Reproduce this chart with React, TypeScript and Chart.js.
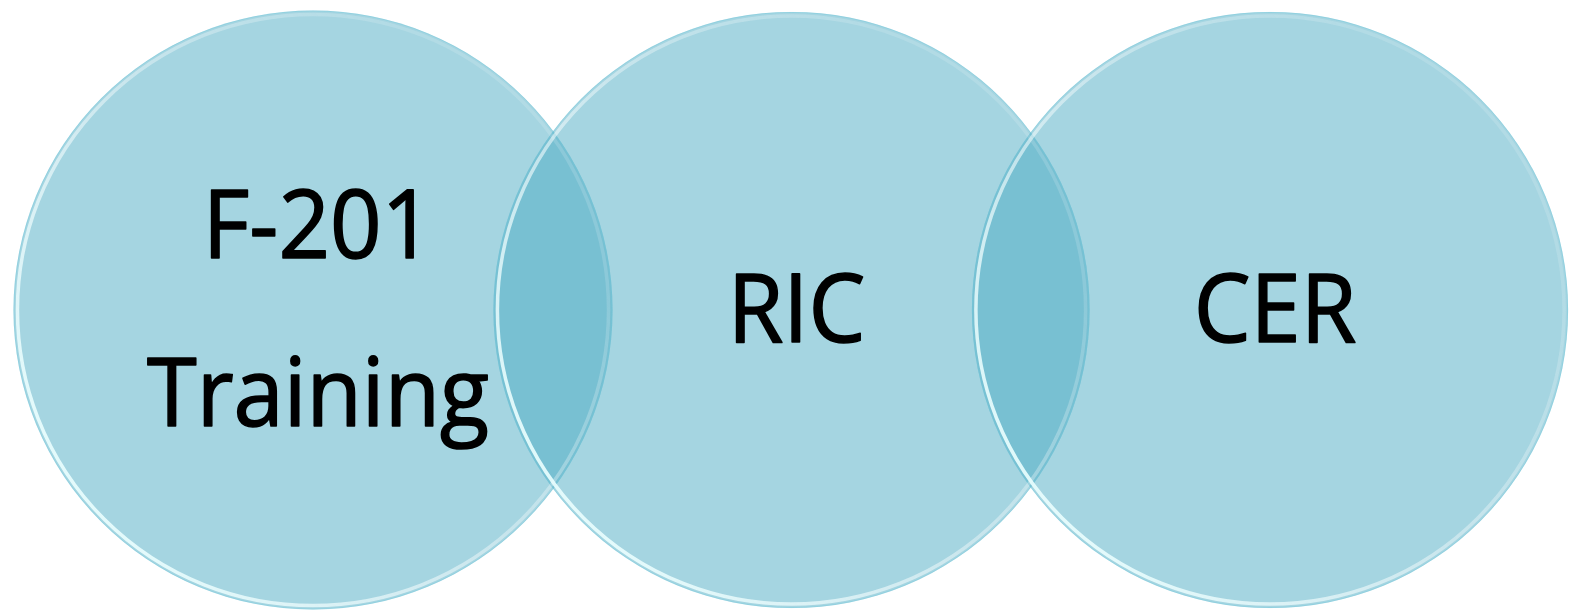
import React, { useEffect, useRef } from "react";
import { Chart, registerables } from "chart.js";

Chart.register(...registerables);

// Sets (circles) of the Venn diagram
const SET_NAMES = ["F-201 Training", "RIC", "CER"];
const SET_LABEL_LINES = [["F-201", "Training"], ["RIC"], ["CER"]];
// Circle centres in data units (x) and common y
const CENTER_X = [1, 2, 3];
const CENTER_Y = [0, 0, 0];
// Circle radius in data units (same units as x)
const RADIUS = [0.626, 0.623, 0.623];

const FILL = "rgba(75, 171, 195, 0.5)";

const rimPlugin = {
  id: "vennRim",
  afterDatasetsDraw(chart: any) {
    const ctx = chart.ctx;
    chart.data.datasets.forEach((_ds: any, di: number) => {
      const el = chart.getDatasetMeta(di).data[0];
      if (!el) return;
      const r = el.options.radius;
      ctx.save();
      // outer thin cyan outline
      ctx.beginPath();
      ctx.arc(el.x, el.y, r - 0.5, 0, Math.PI * 2);
      ctx.strokeStyle = "rgba(110, 200, 220, 0.35)";
      ctx.lineWidth = 1;
      ctx.stroke();
      // inner white highlight band, strongest at top and lower-left
      const g = ctx.createLinearGradient(el.x + r * 0.8, el.y - r * 0.3, el.x - r * 0.6, el.y + r * 0.8);
      g.addColorStop(0, "rgba(255,255,255,0.15)");
      g.addColorStop(0.45, "rgba(255,255,255,0.4)");
      g.addColorStop(1, "rgba(235,255,255,0.9)");
      ctx.beginPath();
      ctx.arc(el.x, el.y, r - 4, 0, Math.PI * 2);
      ctx.strokeStyle = g;
      ctx.lineWidth = 3.5;
      ctx.filter = "blur(0.6px)";
      ctx.stroke();
      ctx.restore();
    });
  },
};

const labelPlugin = {
  id: "vennLabels",
  afterDatasetsDraw(chart: any) {
    const ctx = chart.ctx;
    const fontSize = 96;
    const lineH = 168;
    const capH = fontSize * 0.714;
    ctx.save();
    ctx.fillStyle = "#000000";
    ctx.strokeStyle = "#000000";
    ctx.lineWidth = 1.6;
    ctx.lineJoin = "round";
    ctx.font = `400 ${fontSize}px "Open Sans"`;
    ctx.textAlign = "center";
    ctx.textBaseline = "alphabetic";
    chart.data.datasets.forEach((_ds: any, di: number) => {
      const el = chart.getDatasetMeta(di).data[0];
      if (!el) return;
      const lines = SET_LABEL_LINES[di];
      const n = lines.length;
      lines.forEach((line: string, i: number) => {
        const y = el.y + capH / 2 - 2 + (i - (n - 1) / 2) * lineH;
        ctx.save();
        ctx.translate(el.x + 5, y);
        ctx.scale(0.94, 1);
        ctx.fillText(line, 0, 0);
        ctx.strokeText(line, 0, 0);
        ctx.restore();
      });
    });
    ctx.restore();
  },
};

export default function App() {
  const ref = useRef<HTMLCanvasElement | null>(null);
  useEffect(() => {
    document.body.style.margin = "0";
    const canvas = ref.current;
    if (!canvas) return;
    const pxPerUnit = 478.5;
    const x0 = 313; // pixel of first centre
    const y0 = 310;
    const W = 1574;
    const H = 613;
    const radiusPx = (ctx: any) => {
      const s = ctx.chart.scales.x;
      const r = RADIUS[ctx.datasetIndex];
      return Math.abs(s.getPixelForValue(r) - s.getPixelForValue(0));
    };
    const chart = new Chart(canvas, {
      type: "scatter",
      data: {
        datasets: SET_NAMES.map((name, i) => ({
          label: name,
          data: [{ x: CENTER_X[i], y: CENTER_Y[i] }],
          backgroundColor: FILL,
          borderWidth: 0,
          pointRadius: radiusPx,
          pointHoverRadius: radiusPx,
          clip: false as any,
        })),
      },
      options: {
        responsive: false,
        animation: false,
        events: [],
        layout: { padding: 0 },
        plugins: {
          legend: { display: false },
          tooltip: { enabled: false },
        },
        scales: {
          x: {
            type: "linear",
            display: false,
            min: CENTER_X[0] - x0 / pxPerUnit,
            max: CENTER_X[0] + (W - x0) / pxPerUnit,
          },
          y: {
            type: "linear",
            display: false,
            min: -(H - y0) / pxPerUnit,
            max: y0 / pxPerUnit,
          },
        },
      },
      plugins: [rimPlugin, labelPlugin],
    });
    return () => chart.destroy();
  }, []);
  return (
    <div style={{ position: "absolute", left: 0, top: 0, width: 1574, height: 613, background: "#ffffff" }}>
      <canvas ref={ref} width={1574} height={613} style={{ display: "block" }} />
    </div>
  );
}
